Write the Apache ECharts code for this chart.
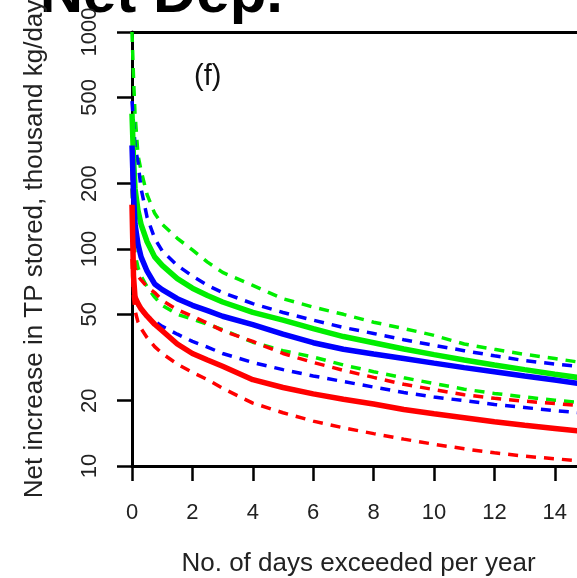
<!DOCTYPE html>
<html>
<head>
<meta charset="utf-8">
<script src="https://cdn.jsdelivr.net/npm/echarts@6/dist/echarts.min.js"></script>
<style>
  html, body { margin: 0; padding: 0; background: #fff; }
  #chart { width: 577px; height: 578px; }
</style>
</head>
<body>
<div id="chart"></div>
<script>
// days exceeded per year (x) and net TP storage increase (thousand kg/day)
var days = [0, 0.05, 0.1, 0.2, 0.3, 0.5, 0.75, 1, 1.5, 2, 2.5, 3, 4, 5, 6, 7, 8, 9, 10, 11, 12, 13, 14, 15]

var greenUpper = [1000, 620, 420, 270, 230, 178, 146, 130, 112, 99, 87, 78, 68, 59, 54, 50, 46, 43, 40, 36.5, 34.5, 32.7, 31.3, 29.8]
var greenMid = [420, 260, 190, 150, 130, 108, 92, 84, 73, 66, 61, 57, 51, 47, 43, 39.5, 37, 34.6, 32.6, 30.8, 29.2, 27.8, 26.5, 25.3]
var greenLower = [190, 120, 95, 82, 75, 67, 60, 55, 50, 47.5, 45, 42.5, 37.2, 34, 31.8, 29.2, 27.2, 25.5, 24, 22.6, 21.6, 20.8, 20.1, 19.5]

var blueUpper = [480, 380, 300, 250, 190, 140, 112, 98, 84, 75, 68, 63, 56, 51, 47, 43.5, 40.8, 38.2, 36, 34, 32.2, 30.6, 29.5, 28.6]
var blueMid = [300, 180, 130, 105, 92, 79, 69, 65, 59, 55, 52, 49, 44.8, 40.5, 37, 34.5, 32.8, 31.3, 29.8, 28.4, 27.2, 26, 24.9, 23.8]
var blueLower = [130, 75, 62, 55, 52, 49, 46.5, 44, 40.5, 37.5, 35.3, 33, 30, 27.8, 26, 24.5, 23.1, 21.8, 20.8, 20, 19.2, 18.6, 18, 17.5]

var redUpper = [230, 110, 82, 75, 72, 67, 63, 58, 52.5, 49, 45.5, 42, 37.5, 33, 30, 27.6, 25.6, 23.8, 22.5, 21.3, 20.5, 19.9, 19.4, 18.9]
var redMid = [160, 75, 60, 56, 53, 49, 45, 42, 36.5, 33, 30.8, 28.8, 25, 23, 21.5, 20.3, 19.3, 18.2, 17.4, 16.7, 16, 15.4, 14.9, 14.4]
var redLower = [90, 60, 52, 46, 43, 39, 35.5, 33, 29.5, 27, 25, 22.8, 19.5, 17.6, 16.1, 15, 14.1, 13.3, 12.6, 12, 11.5, 11.1, 10.8, 10.5]

var xTicks = [0, 2, 4, 6, 8, 10, 12, 14]
var yTicks = [10, 20, 50, 100, 200, 500, 1000]

function pairs(values) {
  return days.map(function (d, i) {
    return [d, values[i]]
  })
}

function line(values, color, dashed) {
  return {
    type: 'line',
    data: pairs(values),
    showSymbol: false,
    silent: true,
    z: dashed ? 2 : 3,
    lineStyle: {
      color: color,
      width: dashed ? 3.5 : 5.5,
      type: dashed ? [10, 8] : 'solid'
    }
  }
}

var chart = echarts.init(document.getElementById('chart'))
chart.setOption({
  animation: false,
  backgroundColor: '#fff',
  textStyle: { fontFamily: 'Liberation Sans, Arial, sans-serif' },
  grid: { left: 132, right: -8, top: 32, bottom: 112, outerBoundsMode: 'none' },
  graphic: [
    {
      type: 'text',
      right: 577 - 283,
      top: -35,
      style: {
        text: 'Net Dep.',
        fontSize: 60,
        fontWeight: 'bold',
        fontFamily: 'Liberation Sans, Arial, sans-serif',
        fill: '#000'
      }
    },
    {
      type: 'text',
      left: 194,
      top: 62,
      style: {
        text: '(f)',
        fontSize: 29,
        fontFamily: 'Liberation Sans, Arial, sans-serif',
        fill: '#111'
      }
    }
  ],
  xAxis: [
    {
      type: 'value',
      min: 0,
      max: 15,
      name: 'No. of days exceeded per year',
      nameLocation: 'middle',
      nameGap: 85,
      nameTextStyle: { fontSize: 26, color: '#222' },
      splitLine: { show: false },
      axisLine: { onZero: false, lineStyle: { color: '#000', width: 3 } },
      axisTick: { length: 15, lineStyle: { color: '#000', width: 2.5 }, customValues: xTicks },
      axisLabel: { fontSize: 22, color: '#222', margin: 36, customValues: xTicks }
    },
    {
      type: 'value',
      position: 'top',
      min: 0,
      max: 15,
      axisLine: { onZero: false, lineStyle: { color: '#000', width: 3 } },
      axisTick: { show: false },
      axisLabel: { show: false },
      splitLine: { show: false }
    }
  ],
  yAxis: {
    type: 'log',
    logBase: 10,
    min: 10,
    max: 1000,
    name: 'Net increase in TP stored, thousand kg/day',
    nameLocation: 'middle',
    nameGap: 84,
    nameTextStyle: { fontSize: 26, color: '#222' },
    splitLine: { show: false },
    axisLine: { lineStyle: { color: '#000', width: 3 } },
    axisTick: { length: 15, lineStyle: { color: '#000', width: 2.5 }, customValues: yTicks },
    axisLabel: {
      fontSize: 22,
      color: '#222',
      rotate: 90,
      margin: 31,
      customValues: yTicks,
      formatter: function (v) { return String(Math.round(v)) }
    }
  },
  series: [
    line(greenUpper, '#00ee00', true),
    line(greenLower, '#00ee00', true),
    line(blueUpper, '#0000ff', true),
    line(blueLower, '#0000ff', true),
    line(redUpper, '#ff0000', true),
    line(redLower, '#ff0000', true),
    line(greenMid, '#00ee00', false),
    line(blueMid, '#0000ff', false),
    line(redMid, '#ff0000', false)
  ]
})
</script>
</body>
</html>
